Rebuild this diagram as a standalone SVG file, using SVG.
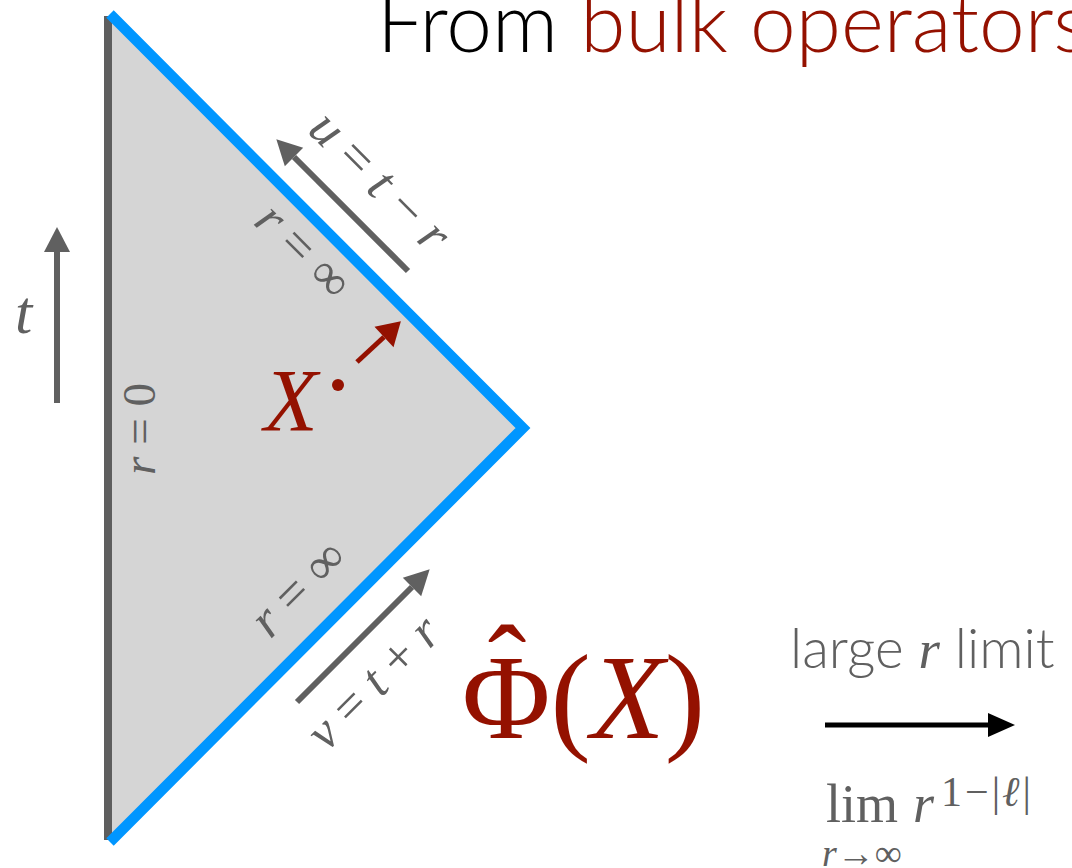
<svg xmlns="http://www.w3.org/2000/svg" width="1072" height="868" viewBox="0 0 1072 868">
<style>
.serif{font-family:"Liberation Serif","Times New Roman",serif}
.it{font-style:italic}
.sans{font-family:Lato,"Open Sans",sans-serif;font-weight:300}
.gray{fill:#606060}
.red{fill:#941100}
</style>
<defs>
<marker id="hg" markerUnits="userSpaceOnUse" markerWidth="26" markerHeight="26" refX="0" refY="13" orient="auto" overflow="visible">
<path d="M0,0 L25,13 L0,26 z" fill="#606060"/>
</marker>
<marker id="hr" markerUnits="userSpaceOnUse" markerWidth="24" markerHeight="28" refX="0" refY="14" orient="auto" overflow="visible">
<path d="M0,0 L23,14 L0,28 z" fill="#941100"/>
</marker>
<marker id="hk" markerUnits="userSpaceOnUse" markerWidth="28" markerHeight="26" refX="0" refY="12" orient="auto" overflow="visible">
<path d="M0,0 L27,12 L0,24 z" fill="#000"/>
</marker>
</defs>
<rect width="1072" height="868" fill="#fff"/>

<g id="title">
<text class="sans" x="377" y="52" font-size="82"><tspan fill="#000">From </tspan><tspan fill="#941100">bulk operators</tspan></text>
</g>

<g id="diagram">
<polygon points="108,16 523,428 108,840" fill="#d5d5d5"/>
<line x1="108" y1="16" x2="108" y2="840" stroke="#5e5e5e" stroke-width="8"/>
<polyline points="110,14 523,428 110,842" fill="none" stroke="#0096ff" stroke-width="10.5" stroke-linejoin="miter"/>
</g>

<g id="connectors">
<line x1="57" y1="403" x2="57" y2="252" stroke="#606060" stroke-width="6" marker-end="url(#hg)"/>
<line x1="408" y1="271" x2="294" y2="157" stroke="#606060" stroke-width="6" marker-end="url(#hg)"/>
<line x1="297" y1="702" x2="412" y2="587" stroke="#606060" stroke-width="6" marker-end="url(#hg)"/>
<line x1="357" y1="362" x2="384" y2="337" stroke="#941100" stroke-width="5" marker-end="url(#hr)"/>
<line x1="825" y1="725" x2="988" y2="725" stroke="#000" stroke-width="5" marker-end="url(#hk)"/>
</g>

<g id="label-t">
<text class="serif it gray" x="15" y="333" font-size="62">t</text>
</g>
<g id="label-r0">
<text class="serif gray" font-size="47" text-anchor="middle" transform="translate(155,429) rotate(-90)"><tspan class="it">r</tspan> = 0</text>
</g>
<g id="label-u">
<text class="serif gray" font-size="53" text-anchor="middle" transform="translate(368,193) rotate(45)"><tspan class="it">u</tspan> = <tspan class="it">t</tspan> − <tspan class="it">r</tspan></text>
</g>
<g id="label-rinf-top">
<text class="serif gray" font-size="52" text-anchor="middle" transform="translate(292,263) rotate(45)"><tspan class="it">r</tspan> = ∞</text>
</g>
<g id="label-rinf-bottom">
<text class="serif gray" font-size="52" text-anchor="middle" transform="translate(310,600) rotate(-45)"><tspan class="it">r</tspan> = ∞</text>
</g>
<g id="label-v">
<text class="serif gray" font-size="51" text-anchor="middle" transform="translate(385,694) rotate(-45)"><tspan class="it">v</tspan> = <tspan class="it">t</tspan> + <tspan class="it">r</tspan></text>
</g>

<g id="point-X">
<circle cx="338" cy="385" r="6" fill="#941100"/>
<text class="serif it red" x="264" y="430" font-size="88">X</text>
</g>

<g id="phi">
<text class="serif red" x="462" y="738" font-size="121">Φ(<tspan class="it">X</tspan>)</text>
<text class="serif red" x="507" y="706" font-size="116" text-anchor="middle">ˆ</text>
</g>

<g id="large-r">
<text class="sans gray" x="790" y="668" font-size="55">large <tspan class="serif it" font-weight="400">r</tspan> limit</text>
</g>

<g id="lim">
<text class="serif gray" x="826" y="822" font-size="54">lim</text>
<text class="serif it gray" x="913" y="822" font-size="54">r</text>
<text class="serif gray" x="941" y="806" font-size="42">1<tspan dx="3">−</tspan><tspan dx="3">|</tspan><tspan class="it" dx="2">ℓ</tspan><tspan dx="3">|</tspan></text>
<text class="serif gray" x="822" y="866" font-size="38"><tspan class="it">r</tspan>→∞</text>
</g>
</svg>
